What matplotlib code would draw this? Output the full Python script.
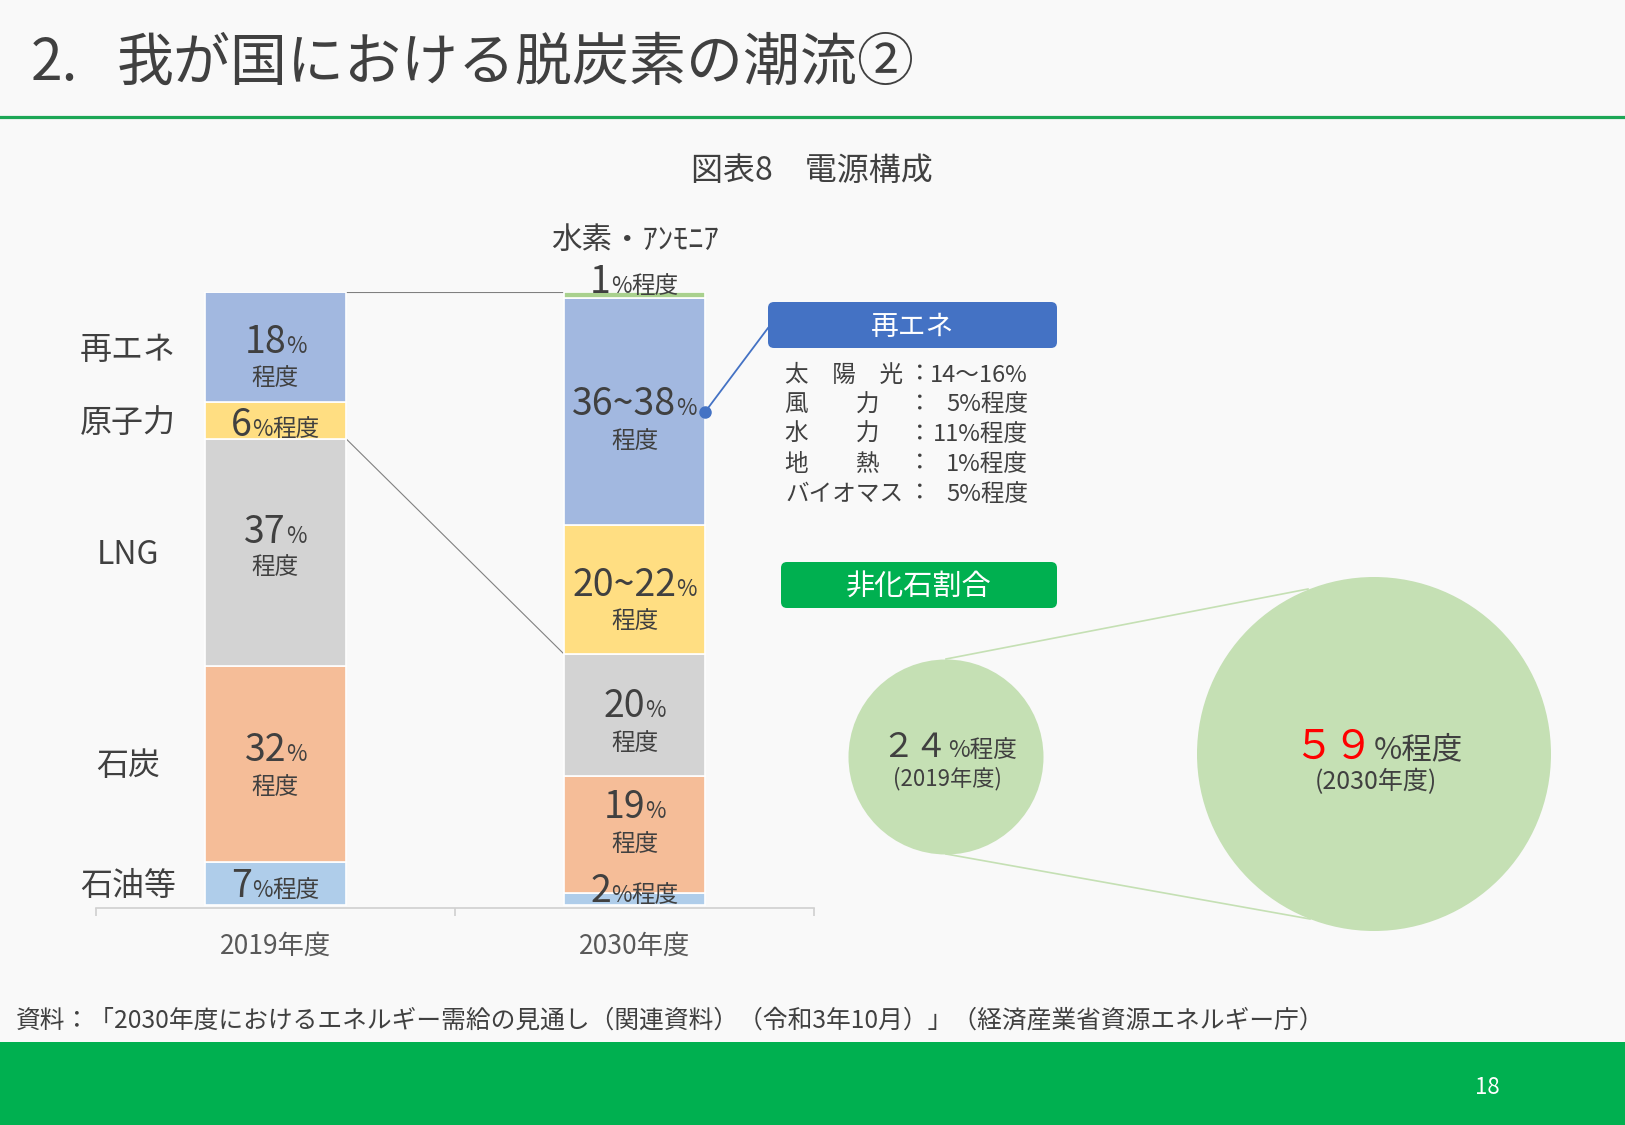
import matplotlib
matplotlib.use('Agg')
import matplotlib.pyplot as plt
from matplotlib.patches import Circle, FancyBboxPatch
import numpy as np

plt.rcParams['font.family'] = ['Noto Sans CJK JP', 'DejaVu Sans']

# ---- data ----
years = ['2019年度', '2030年度']
sources = ['石油等', '石炭', 'LNG', '原子力', '再エネ', '水素・ｱﾝﾓﾆｱ']
share_2019 = [7, 32, 37, 6, 18, 0]
share_2030 = [2, 19, 20, 21, 37, 1]          # 20~22 / 36~38 -> mid values
label_2019 = ['7', '32', '37', '6', '18', '']
label_2030 = ['2', '19', '20', '20~22', '36~38', '1']
colors = ['#AFCDEA', '#F5BD98', '#D3D3D3', '#FFDE82', '#A2B8E0', '#A9D18E']

re_names = ['太　陽　光', '風　　力', '水　　力', '地　　熱', 'バイオマス']
re_values = ['14～16%', '5%程度', '11%程度', '1%程度', '5%程度']

nonfossil = ['２４', '５９']
nonfossil_years = ['(2019年度)', '(2030年度)']

# label placement (px from segment centre): (number row, 程度 row or None = one line)
off_2019 = [(0, None), (-16, 22), (-23, 13), (2, None), (-8, 29), None]
off_2030 = [(-10, None), (-30, 8), (-11, 27), (-7, 30), (-10, 28), (-16, None)]

DARK = '#404040'
GREEN = '#00B050'

fig = plt.figure(figsize=(16.25, 11.25), dpi=100)
fig.patch.set_facecolor('#F9F9F9')

# bar chart axes
ax = fig.add_axes([96 / 1625, (1125 - 908) / 1125, 718 / 1625, 616 / 1125])
ax.set_zorder(1)
ax.patch.set_alpha(0)

# overlay axes in pixel units (origin top-left), drawn above the bars
bg = fig.add_axes([0, 0, 1, 1])
bg.set_xlim(0, 1625)
bg.set_ylim(1125, 0)
bg.axis('off')
bg.set_zorder(2)

W = 0.395
x = np.arange(len(years))
for vals, xi in ((share_2019, 0), (share_2030, 1)):
    bottoms = np.concatenate([[0], np.cumsum(vals)[:-1]])
    ax.bar([xi] * len(vals), vals, W, bottom=bottoms, color=colors,
           edgecolor='white', linewidth=1.2, zorder=2)
ax.set_xlim(-0.5, 1.5)
ax.set_ylim(-0.5, 100)
for s in ['left', 'right', 'top']:
    ax.spines[s].set_visible(False)
ax.spines['bottom'].set_color('#D0D0D0')
ax.spines['bottom'].set_linewidth(1.2)
ax.set_yticks([])
ax.set_xticks(x)
ax.set_xticklabels(years, fontsize=19, color='#595959')
ax.tick_params(axis='x', which='major', length=0, pad=18)
ax.set_xticks([-0.5, 0.5, 1.5], minor=True)
ax.tick_params(axis='x', which='minor', length=6, color='#D0D0D0', width=1.2)


def to_px(xd, yd):
    disp = ax.transData.transform((xd, yd))
    return bg.transData.inverted().transform(disp)


renderer = fig.canvas.get_renderer()


def rich(xc, yc, parts, ha='center'):
    # parts: (text, size, color); yc is vertical centre in px
    objs = [bg.text(0, 0, s, fontsize=fs, color=c, ha='left', va='baseline', zorder=5)
            for s, fs, c in parts]
    ws = [o.get_window_extent(renderer).width for o in objs]
    total = sum(ws)
    x0 = xc - total / 2 if ha == 'center' else (xc - total if ha == 'right' else xc)
    base = yc + 0.36 * max(p[1] for p in parts) * 100 / 72
    for o, w in zip(objs, ws):
        o.set_position((x0, base))
        x0 += w


# connector lines between bars (fossil / non-fossil boundary and top)
top19 = np.sum(share_2019)
top30 = np.sum(share_2030)
fossil19 = np.sum(share_2019[:3])
fossil30 = np.sum(share_2030[:3])
ax.plot([W / 2, 1 - W / 2], [top19, top30], color='#808080', lw=0.8, zorder=1)
ax.plot([W / 2, 1 - W / 2], [fossil19, fossil30], color='#808080', lw=0.8, zorder=1)

# bar labels
for xi, vals, labs, offs in ((0, share_2019, label_2019, off_2019),
                             (1, share_2030, label_2030, off_2030)):
    bottoms = np.concatenate([[0], np.cumsum(vals)[:-1]])
    for v, b, lab, off in zip(vals, bottoms, labs, offs):
        if not lab:
            continue
        px, py = to_px(xi, b + v / 2)
        if off[1] is None:
            rich(px, py + off[0], [(lab, 27, DARK), ('%', 16, DARK), ('程度', 17, DARK)])
        else:
            rich(px, py + off[0], [(lab, 27, DARK), ('%', 16, DARK)])
            rich(px, py + off[1], [('程度', 17, DARK)])

# source names on the left, centred on 2019 segments
b19 = np.concatenate([[0], np.cumsum(share_2019)[:-1]])
for name, v, b in zip(sources[:5], share_2019[:5], b19[:5]):
    _, py = to_px(0, b + v / 2)
    rich(128, py, [(name, 23, DARK)])
px_h, _ = to_px(1, 100)
rich(px_h, 238, [(sources[5], 22, DARK)])

# title
bg.text(31, 64, '2.', fontsize=41, color=DARK, ha='left', va='center')
bg.text(117, 64, '我が国における脱炭素の潮流②', fontsize=41, color=DARK,
        ha='left', va='center')
bg.plot([0, 1625], [117, 117], color='#1DA756', lw=2.3)
bg.text(812, 171, '図表8　電源構成', fontsize=23, color=DARK, ha='center', va='center')

# renewable callout
dot = to_px(1 + W / 2, np.sum(share_2030[:4]) + share_2030[4] / 2)
bg.plot([dot[0], 768], [dot[1], 328], color='#4472C4', lw=1.3, zorder=3)
bg.plot(dot[0], dot[1], 'o', color='#4472C4', ms=8, zorder=4)
bg.add_patch(FancyBboxPatch((768, 302), 289, 46, boxstyle='round,pad=0,rounding_size=6',
                            fc='#4472C4', ec='none', zorder=3))
rich(912, 325, [('再エネ', 20, 'white')])
for i, (nm, val) in enumerate(zip(re_names, re_values)):
    yy = 373 + i * 29.8
    rich(785, yy, [(nm, 17, DARK)], ha='left')
    rich(920, yy, [('：', 17, DARK)])
    rich(1028, yy, [(val, 17, DARK)], ha='right')

# non-fossil share
bg.add_patch(FancyBboxPatch((781, 562), 276, 46, boxstyle='round,pad=0,rounding_size=6',
                            fc=GREEN, ec='none', zorder=3))
rich(919, 585, [('非化石割合', 21, 'white')])
bg.plot([946, 1308], [659, 589], color='#C5E0B4', lw=1.2, zorder=1)
bg.plot([946, 1310], [854, 919], color='#C5E0B4', lw=1.2, zorder=1)
bg.add_patch(Circle((946, 757), 97.5, fc='#C5E0B4', ec='none', zorder=2))
bg.add_patch(Circle((1374, 754), 177, fc='#C5E0B4', ec='none', zorder=2))
rich(949, 745, [(nonfossil[0], 24, DARK), ('%程度', 17, DARK)])
rich(947, 777, [(nonfossil_years[0], 16, DARK)])
rich(1378, 744, [(nonfossil[1], 29, '#FF0000'), ('%程度', 22, DARK)])
rich(1376, 780, [(nonfossil_years[1], 18, DARK)])

# source note and footer
bg.text(16, 1021, '資料：「2030年度におけるエネルギー需給の見通し（関連資料）（令和3年10月）」（経済産業省資源エネルギー庁）',
        fontsize=17.8, color=DARK, ha='left', va='center')
bg.add_patch(plt.Rectangle((0, 1042), 1625, 83, fc=GREEN, ec='none', zorder=1))
bg.text(1487, 1087, '18', fontsize=16, color='white', ha='center', va='center')

fig.savefig('out.png', dpi=100, facecolor=fig.get_facecolor())
